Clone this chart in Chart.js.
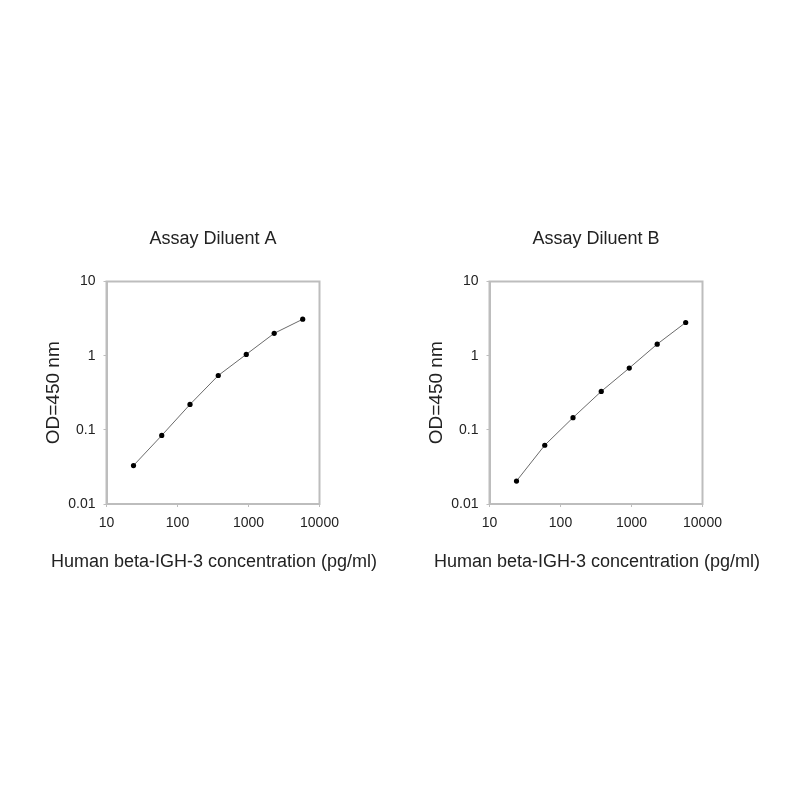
<!DOCTYPE html>
<html>
<head>
<meta charset="utf-8">
<script src="https://cdn.jsdelivr.net/npm/chart.js@4.4.0/dist/chart.umd.min.js"></script>
<style>
    html, body { margin: 0; padding: 0; background: #fff; }
    body { width: 800px; height: 800px; position: relative; overflow: hidden; }
    .box { position: absolute; top: 200px; width: 380px; height: 400px; }
    #boxA { left: 22.5px; }
    #boxB { left: 405.5px; }
</style>
</head>
<body>
<div class="box" id="boxA"><canvas id="chartA"></canvas></div>
<div class="box" id="boxB"><canvas id="chartB"></canvas></div>

<script>
// =====================
//  DATA
// =====================
const CONCENTRATION = [24, 60, 150, 375, 930, 2300, 5800];   // pg/ml
const OD_DILUENT_A = [0.033, 0.084, 0.22, 0.54, 1.04, 2.0, 3.1];
const OD_DILUENT_B = [0.0204, 0.062, 0.146, 0.33, 0.68, 1.43, 2.8];

const X_TICKS = [10, 100, 1000, 10000];
const X_TICK_LABELS = ["10", "100", "1000", "10000"];
const Y_TICKS = [0.01, 0.1, 1, 10];
const Y_TICK_LABELS = ["0.01", "0.1", "1", "10"];

const TITLE_A = "Assay Diluent A";
const TITLE_B = "Assay Diluent B";
const X_TITLE = "Human beta-IGH-3 concentration (pg/ml)";
const Y_TITLE = "OD=450 nm";


// =====================
//  COMMON STYLE
// =====================
const FONT = "'Liberation Sans', Arial, Helvetica, sans-serif";
const TEXT = "#222";
const AXIS = "#bdbdbd";

// box around the plot area (top + right edge like the original)
const framePlugin = {
    id: "frame",
    afterDraw(chart) {
        const { ctx, chartArea: a } = chart;
        ctx.save();
        ctx.strokeStyle = AXIS;
        ctx.lineWidth = 2;
        ctx.strokeRect(a.left, a.top, a.right - a.left, a.bottom - a.top);
        ctx.restore();
    }
};

// x title is wider than the plot, the scale title would squeeze it
const xTitlePlugin = {
    id: "xTitle",
    afterDraw(chart) {
        const { ctx, chartArea: a } = chart;
        ctx.save();
        ctx.fillStyle = TEXT;
        ctx.font = "18px " + FONT;
        ctx.textAlign = "center";
        ctx.textBaseline = "middle";
        ctx.fillText(X_TITLE, (a.left + a.right) / 2 + 1, a.bottom + 57.7);
        ctx.restore();
    }
};

function makeChart(canvasId, title, values) {
    const ctx = document.getElementById(canvasId).getContext("2d");
    return new Chart(ctx, {
        type: "line",
        data: {
            datasets: [
                {
                    data: CONCENTRATION.map((x, i) => ({ x: x, y: values[i] })),
                    borderColor: "#6a6a6a",
                    borderWidth: 1,
                    tension: 0,
                    pointRadius: 2.6,
                    pointBackgroundColor: "#000",
                    pointBorderColor: "#000",
                    pointBorderWidth: 0
                }
            ]
        },
        options: {
            responsive: true,
            maintainAspectRatio: false,
            animation: false,
            layout: {
                padding: { left: 19.5, right: 83.5, top: 0, bottom: 27.5 }
            },
            plugins: {
                legend: { display: false },
                tooltip: { enabled: false },
                title: {
                    display: true,
                    text: title,
                    fullSize: false,
                    color: TEXT,
                    font: { family: FONT, size: 18, weight: "normal", lineHeight: 1.2 },
                    padding: { top: 28.2, bottom: 31.7 }
                }
            },
            scales: {
                x: {
                    type: "logarithmic",
                    min: 10,
                    max: 10000,
                    afterBuildTicks: (axis) => {
                        axis.ticks = X_TICKS.map((v) => ({ value: v }));
                    },
                    afterFit: (axis) => { axis.height = 68.5; },
                    ticks: {
                        color: TEXT,
                        padding: 7.6,
                        maxRotation: 0,
                        autoSkip: false,
                        font: { family: FONT, size: 14 },
                        callback: (v) => X_TICK_LABELS[X_TICKS.indexOf(v)]
                    },
                    grid: { drawOnChartArea: false, tickLength: 3, color: AXIS },
                    border: { display: true, color: AXIS, width: 2 }
                },
                y: {
                    type: "logarithmic",
                    min: 0.01,
                    max: 10,
                    afterBuildTicks: (axis) => {
                        axis.ticks = Y_TICKS.map((v) => ({ value: v }));
                    },
                    afterFit: (axis) => { axis.width = 64; },
                    ticks: {
                        color: TEXT,
                        padding: 8,
                        autoSkip: false,
                        font: { family: FONT, size: 14 },
                        callback: (v) => Y_TICK_LABELS[Y_TICKS.indexOf(v)]
                    },
                    grid: { drawOnChartArea: false, tickLength: 3, color: AXIS },
                    border: { display: true, color: AXIS, width: 2 },
                    title: {
                        display: true,
                        text: Y_TITLE,
                        color: TEXT,
                        padding: 0,
                        font: { family: FONT, size: 19, lineHeight: 1.2 }
                    }
                }
            }
        },
        plugins: [framePlugin, xTitlePlugin]
    });
}

makeChart("chartA", TITLE_A, OD_DILUENT_A);
makeChart("chartB", TITLE_B, OD_DILUENT_B);
</script>
</body>
</html>
